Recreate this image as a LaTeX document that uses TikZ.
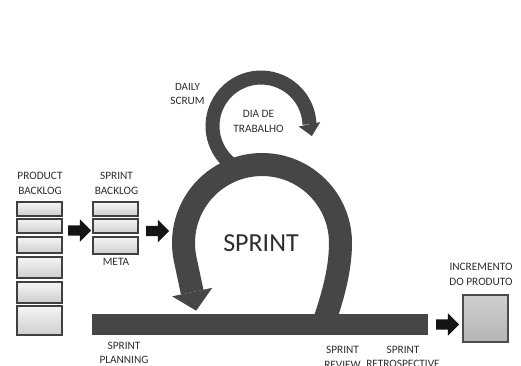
\documentclass[tikz,border=0pt]{standalone}
\usepackage{fontspec}
\setmainfont{Carlito}
\usetikzlibrary{shapes.arrows,calc}
\definecolor{ringc}{HTML}{464646}
\definecolor{txtc}{HTML}{2E2E2E}
\begin{document}
\begin{tikzpicture}[x=1pt,y=-1pt,
  lbl/.style={text=txtc, font=\fontsize{11.3}{14.7}\selectfont, align=center, inner sep=0pt},
  bbox/.style={draw=black!75, line width=1.4pt, top color=gray!8, bottom color=gray!38,
               minimum width=45pt, inner sep=0pt},
  incbox/.style={draw=black!70, line width=1.4pt, top color=gray!38, bottom color=gray!58,
               minimum width=45pt, minimum height=47pt, inner sep=0pt},
  blk/.style={single arrow, fill=black!92, draw=none, inner xsep=0pt, inner ysep=5pt,
              minimum height=23pt, single arrow head extend=6pt},
  ringline/.style={draw=ringc, line width=23pt},
  smallring/.style={draw=ringc, line width=14pt},
  headfill/.style={fill=ringc}
]
\useasboundingbox (0,0) rectangle (521,365);
\fill[white] (0,0) rectangle (521,365);

% product backlog
\node[bbox, minimum height=14pt] (pb1) at (39.5,209) {};
\node[bbox, minimum height=14pt] (pb2) at (39.5,226) {};
\node[bbox, minimum height=16pt] (pb3) at (39.5,245) {};
\node[bbox, minimum height=21pt] (pb4) at (39.5,267.5) {};
\node[bbox, minimum height=21pt] (pb5) at (39.5,292.5) {};
\node[bbox, minimum height=29pt] (pb6) at (39.5,320.5) {};
\node[lbl] (pbl) at (40,183.7) {PRODUCT\\BACKLOG};

% sprint backlog
\node[bbox, minimum height=14pt] (sb1) at (115.5,209) {};
\node[bbox, minimum height=14pt] (sb2) at (115.5,226) {};
\node[bbox, minimum height=17pt] (sb3) at (115.5,245.5) {};
\node[lbl] (sbl) at (116.5,183.7) {SPRINT\\BACKLOG};
\node[lbl] (meta) at (116,262.3) {META};

% block arrows
\node[blk] (a1) at (77,230.5) {};
\node[blk] (a2) at (155,231) {};
\node[blk] (a3) at (445,324.5) {};

% bar
\node[fill=ringc, minimum width=336pt, minimum height=21pt, inner sep=0pt] (bar) at (260,324.5) {};

% increment
\node[incbox] (inc) at (485.5,318.5) {};
\node[lbl] (incl) at (481,274.3) {INCREMENTO\\DO PRODUTO};

% daily scrum ring
\coordinate (sc) at (261,126);
\coordinate (ss) at ($(sc)+(115:48.5)$);
\draw[smallring] (ss) arc[start angle=115, end angle=358, radius=48.5] coordinate (se);
\fill[headfill] ($(se)+(11*0.98,-11*0.2)$) -- ($(se)+(-11*0.98,11*0.2)$) -- ($(se)+(12*0.2,12*0.98)$) -- cycle;

% sprint ring
\coordinate (bs) at (323,325);
\coordinate (bc) at (262,243);
\coordinate (bb) at (192.2,292.1);
\draw[ringline] (bs) .. controls (331,302) and (340.5,272) .. (340.5,243)
   arc[start angle=0, end angle=-192, radius=78.5] -- (bb);
\fill[headfill] ($(bb)+(20.5*0.978,-20.5*0.208)$) -- ($(bb)+(-20.5*0.978,20.5*0.208)$) -- ($(bb)+(19*0.208,19*0.978)$) -- cycle;

% labels
\node[lbl] (dsl) at (187.5,94) {\fontsize{11}{12}\selectfont DAILY\\SCRUM};
\node[lbl] (dtl) at (258.5,121.3) {DIA DE\\TRABALHO};
\node[lbl, font=\fontsize{26}{28}\selectfont] (spr) at (261,243) {SPRINT};
\node[lbl] (spl) at (124,353) {SPRINT\\PLANNING};
\node[lbl] (srl) at (342.5,357) {SPRINT\\REVIEW};
\node[lbl] (strl) at (403,357) {SPRINT\\RETROSPECTIVE};
\end{tikzpicture}
\end{document}
